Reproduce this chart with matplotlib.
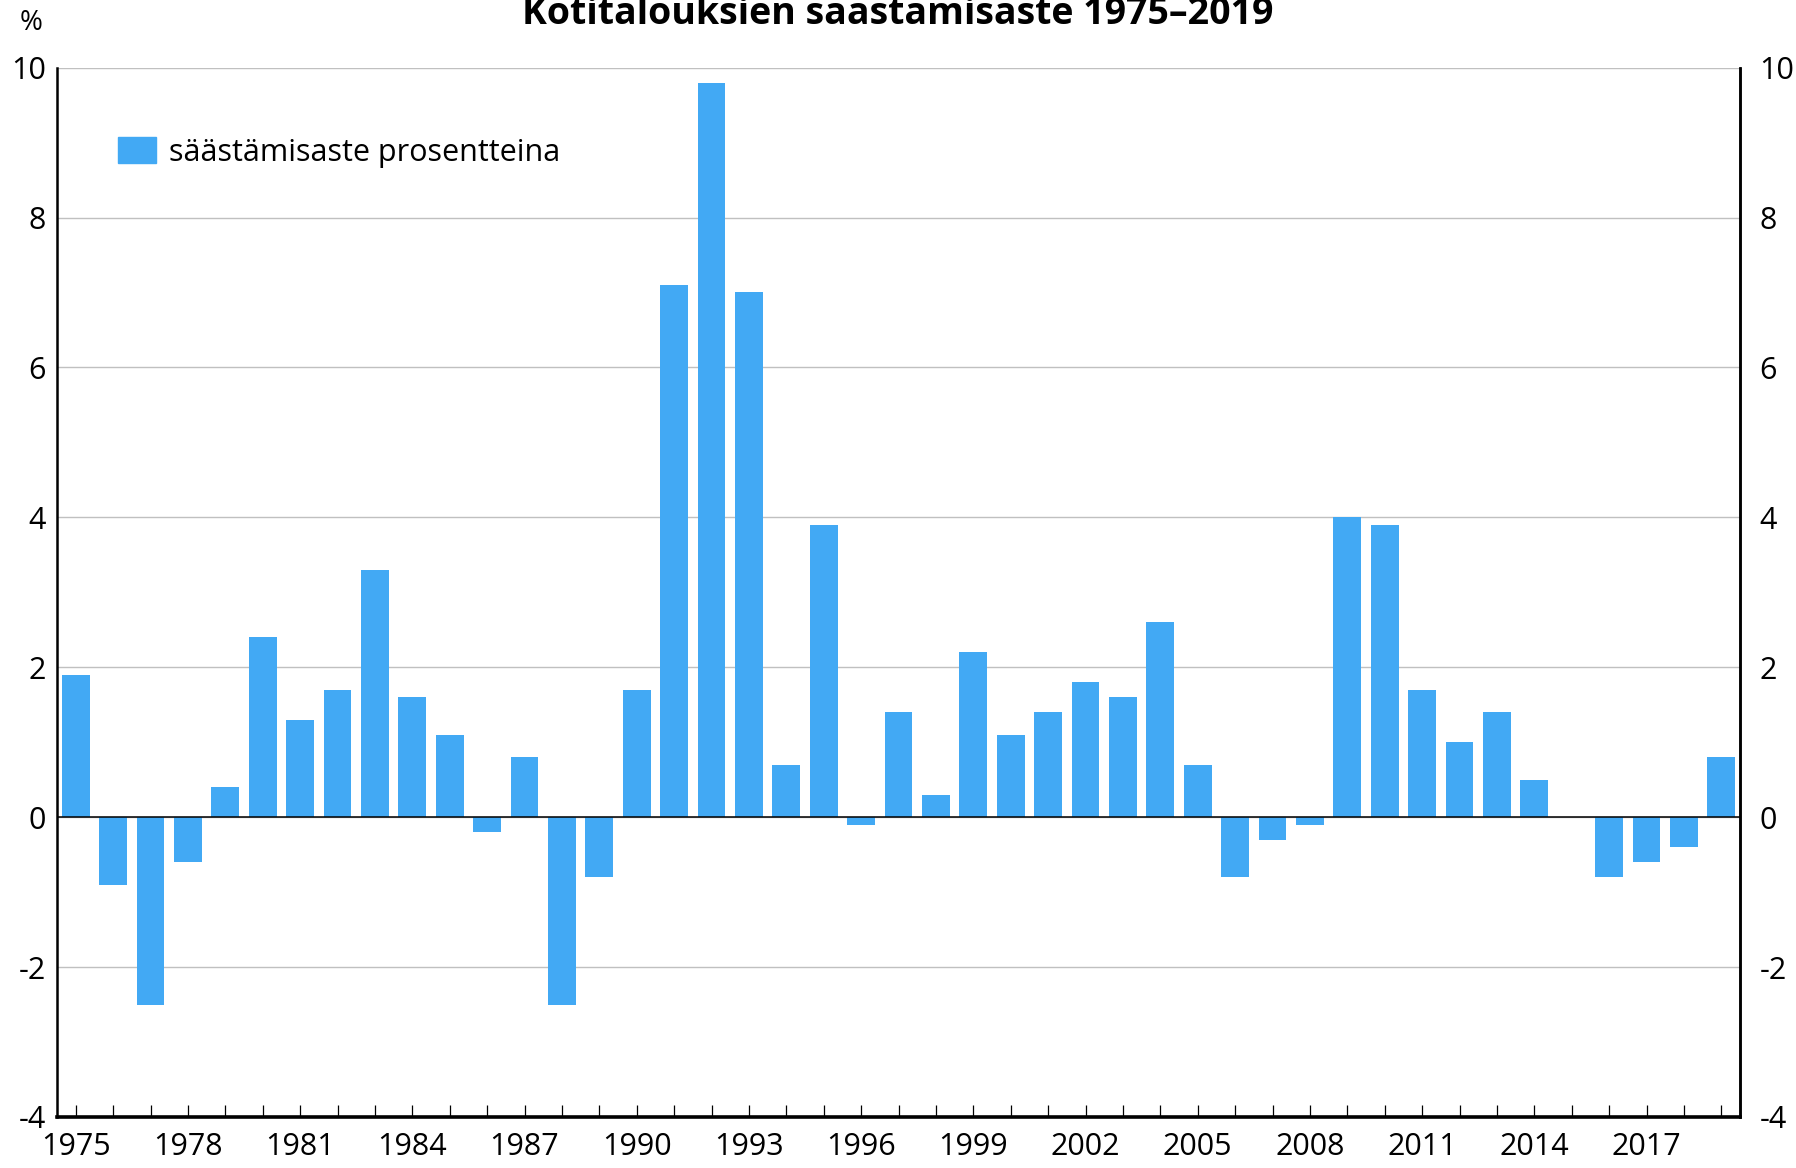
import numpy as np
import matplotlib
matplotlib.use('Agg')
import matplotlib.pyplot as plt
from matplotlib.patches import Patch

plt.rcParams['font.family'] = ['Open Sans', 'DejaVu Sans']

# household saving rate, percent
years = list(range(1975, 2020))
rate = [1.9, -0.9, -2.5, -0.6, 0.4, 2.4, 1.3, 1.7, 3.3, 1.6,
        1.1, -0.2, 0.8, -2.5, -0.8, 1.7, 7.1, 9.8, 7.0, 0.7,
        3.9, -0.1, 1.4, 0.3, 2.2, 1.1, 1.4, 1.8, 1.6, 2.6,
        0.7, -0.8, -0.3, -0.1, 4.0, 3.9, 1.7, 1.0, 1.4, 0.5,
        0.0, -0.8, -0.6, -0.4, 0.8]
yticks = [-4, -2, 0, 2, 4, 6, 8, 10]
title = 'Kotitalouksien säästämisaste 1975–2019'
series_label = 'säästämisaste prosentteina'

bar_color = '#42a9f4'
W, H = 1796, 1168

fig = plt.figure(figsize=(W / 100, H / 100), dpi=100)
ax = fig.add_axes([57 / W, 1 - 1117 / H, (1740 - 57) / W, (1117 - 67.6) / H])

ax.bar(years, rate, width=0.74, color=bar_color, zorder=3)
ax.axhline(0, color='black', linewidth=1.1, zorder=4)

ax.set_xlim(years[0] - 0.5, years[-1] + 0.5)
ax.set_ylim(-4, 10)
ax.set_yticks(yticks)
ax.set_yticklabels([str(v) for v in yticks])
ax.yaxis.grid(True, color='#c0c0c0', linewidth=1.0, zorder=0)
ax.tick_params(axis='y', length=0, pad=8, labelsize=22)

ax.set_xticks(years)
ax.set_xticklabels([str(y) if (y - 1975) % 3 == 0 else '' for y in years])
ax.tick_params(axis='x', direction='in', length=9, width=0.9, pad=11, labelsize=22)

ax.spines['top'].set_visible(False)
ax.spines['left'].set_linewidth(1.8)
ax.spines['right'].set_linewidth(1.8)
ax.spines['bottom'].set_linewidth(2.6)
ax.spines['bottom'].set_zorder(5)

# right hand axis with same scale
ax2 = ax.twinx()
ax2.set_ylim(ax.get_ylim())
ax2.set_yticks(yticks)
ax2.set_yticklabels([str(v) for v in yticks])
ax2.tick_params(axis='y', length=0, pad=14, labelsize=22)
for s in ['top', 'left', 'bottom']:
    ax2.spines[s].set_visible(False)
ax2.spines['right'].set_linewidth(1.8)

leg = ax.legend([Patch(color=bar_color)], [series_label], loc='upper left',
                bbox_to_anchor=(0.036, 0.934), frameon=False, fontsize=22,
                handlelength=1.25, handleheight=0.95, handletextpad=0.42,
                borderpad=0, borderaxespad=0)

fig.text(0.5, 1 - 24 / H, title, ha='center', va='baseline',
         fontsize=27, fontweight='bold')
fig.text(31 / W, 1 - 23 / H, '%', ha='center', va='center', fontsize=20)

fig.savefig('out.png', dpi=100)
